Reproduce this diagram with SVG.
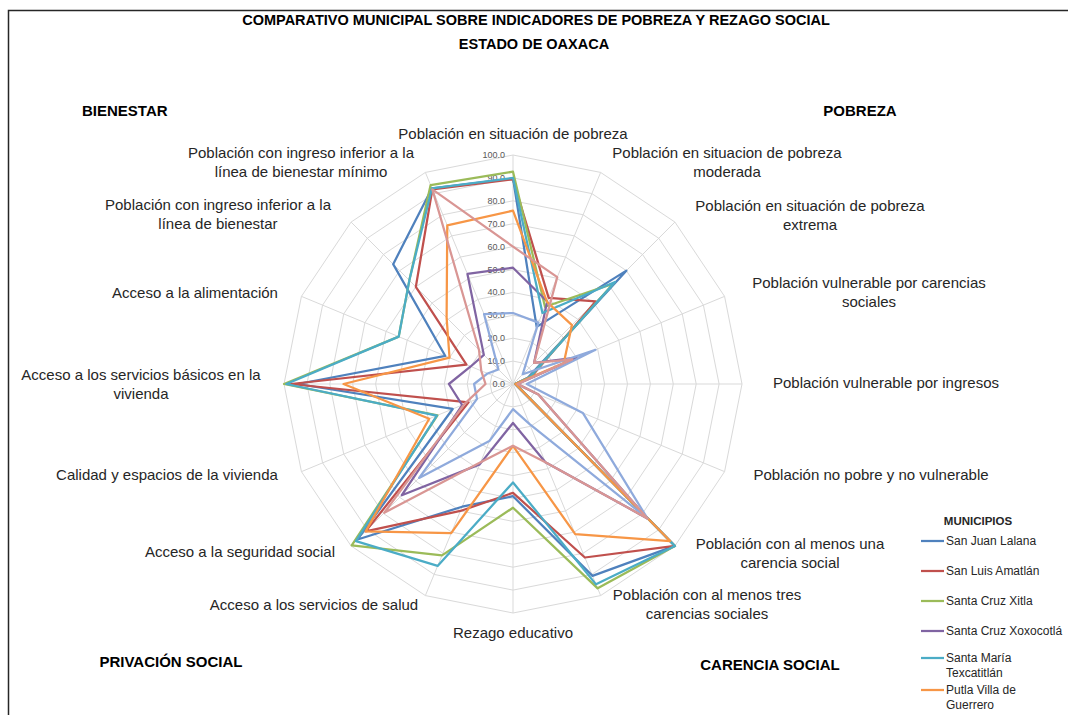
<svg xmlns="http://www.w3.org/2000/svg" xmlns:xlink="http://www.w3.org/1999/xlink" width="1068" height="715" viewBox="0 0 1068 715">
<style>
.t{font-family:"Liberation Sans",Arial,sans-serif;fill:#262626}
.ttl{font-size:14.5px;font-weight:bold;fill:#000}
.sec{font-size:15px;font-weight:bold;fill:#000}
.ax{font-size:15px;text-anchor:middle}
.tk{font-size:9px;fill:#595959;text-anchor:end}
.lg{font-size:12px}
.s{fill:none;stroke-width:2.25;stroke-linejoin:round}
.gr{fill:none;stroke:#D9D9D9;stroke-width:1}
</style>
<defs>
<polygon id="ring" vector-effect="non-scaling-stroke" points="0,-100 38.268,-92.388 70.711,-70.711 92.388,-38.268 100,0 92.388,38.268 70.711,70.711 38.268,92.388 0,100 -38.268,92.388 -70.711,70.711 -92.388,38.268 -100,0 -92.388,-38.268 -70.711,-70.711 -38.268,-92.388"/>
</defs>
<rect x="0" y="0" width="1068" height="715" fill="#fff"/>
<rect x="8.5" y="10.5" width="1100" height="760" fill="none" stroke="#262626" stroke-width="1.5"/>

<g id="title" class="t">
<text class="t ttl" x="536" y="25" text-anchor="middle">COMPARATIVO MUNICIPAL SOBRE INDICADORES DE POBREZA Y REZAGO SOCIAL</text>
<text class="t ttl" x="534" y="49" text-anchor="middle">ESTADO DE OAXACA</text>
</g>

<g id="sections">
<text class="t sec" x="82" y="116">BIENESTAR</text>
<text class="t sec" x="860" y="116" text-anchor="middle">POBREZA</text>
<text class="t sec" x="171" y="667" text-anchor="middle">PRIVACIÓN SOCIAL</text>
<text class="t sec" x="770" y="670" text-anchor="middle">CARENCIA SOCIAL</text>
</g>

<g id="grid" class="gr" transform="translate(513,384)">
<use xlink:href="#ring" href="#ring" transform="scale(0.229)"/>
<use xlink:href="#ring" href="#ring" transform="scale(0.458)"/>
<use xlink:href="#ring" href="#ring" transform="scale(0.687)"/>
<use xlink:href="#ring" href="#ring" transform="scale(0.916)"/>
<use xlink:href="#ring" href="#ring" transform="scale(1.145)"/>
<use xlink:href="#ring" href="#ring" transform="scale(1.374)"/>
<use xlink:href="#ring" href="#ring" transform="scale(1.603)"/>
<use xlink:href="#ring" href="#ring" transform="scale(1.832)"/>
<use xlink:href="#ring" href="#ring" transform="scale(2.061)"/>
<use xlink:href="#ring" href="#ring" transform="scale(2.29)"/>
<path d="M0 0L0 -229M0 0L87.63 -211.57M0 0L161.93 -161.93M0 0L211.57 -87.63M0 0L229 0M0 0L211.57 87.63M0 0L161.93 161.93M0 0L87.63 211.57M0 0L0 229M0 0L-87.63 211.57M0 0L-161.93 161.93M0 0L-211.57 87.63M0 0L-229 0M0 0L-211.57 -87.63M0 0L-161.93 -161.93M0 0L-87.63 -211.57"/>
</g>

<g id="ticks" class="t tk">
<text class="t tk" x="505" y="387">0.0</text>
<text class="t tk" x="505" y="364.1">10.0</text>
<text class="t tk" x="505" y="341.2">20.0</text>
<text class="t tk" x="505" y="318.3">30.0</text>
<text class="t tk" x="505" y="295.4">40.0</text>
<text class="t tk" x="505" y="272.5">50.0</text>
<text class="t tk" x="505" y="249.6">60.0</text>
<text class="t tk" x="505" y="226.7">70.0</text>
<text class="t tk" x="505" y="203.8">80.0</text>
<text class="t tk" x="505" y="180.9">90.0</text>
<text class="t tk" x="505" y="158">100.0</text>
</g>

<g id="axis-labels">
<text class="t ax" x="513" y="139">Población en situación de pobreza</text>
<text class="t ax" x="727" y="158"><tspan x="727">Población en situacion de pobreza</tspan><tspan x="727" dy="19">moderada</tspan></text>
<text class="t ax" x="810" y="211"><tspan x="810">Población en situación de pobreza</tspan><tspan x="810" dy="19">extrema</tspan></text>
<text class="t ax" x="869" y="288"><tspan x="869">Población vulnerable por carencias</tspan><tspan x="869" dy="19">sociales</tspan></text>
<text class="t ax" x="886" y="388">Población vulnerable por ingresos</text>
<text class="t ax" x="871" y="480">Población no pobre y no vulnerable</text>
<text class="t ax" x="790" y="549"><tspan x="790">Población con al menos una</tspan><tspan x="790" dy="19">carencia social</tspan></text>
<text class="t ax" x="707" y="600"><tspan x="707">Población con al menos tres</tspan><tspan x="707" dy="19">carencias sociales</tspan></text>
<text class="t ax" x="513" y="638">Rezago educativo</text>
<text class="t ax" x="314" y="610">Acceso a los servicios de salud</text>
<text class="t ax" x="240" y="557">Acceso a la seguridad social</text>
<text class="t ax" x="167" y="480">Calidad y espacios de la vivienda</text>
<text class="t ax" x="141" y="380"><tspan x="141">Acceso a los servicios básicos en la</tspan><tspan x="141" dy="19">vivienda</tspan></text>
<text class="t ax" x="195" y="298">Acceso a la alimentación</text>
<text class="t ax" x="218" y="210"><tspan x="218">Población con ingreso inferior a la</tspan><tspan x="218" dy="19">línea de bienestar</tspan></text>
<text class="t ax" x="301" y="158"><tspan x="301">Población con ingreso inferior a la</tspan><tspan x="301" dy="19">línea de bienestar mínimo</tspan></text>
</g>

<g id="series" transform="translate(513,384)">
<polygon id="s-san-juan-lalana" class="s" stroke="#4F81BD" points="0,-205.6 23.66,-57.12 113.35,-113.35 14.81,-6.13 2.29,0 4.23,1.75 161.93,161.93 79.48,191.89 0,112.2 -50.83,122.71 -155.45,155.45 -60.3,24.98 -215.26,0 -67.7,-28.04 -119.83,-119.83 -81.06,-195.7"/>
<polygon id="s-san-luis-amatlan" class="s" stroke="#C0504D" points="0,-204.7 35.67,-86.11 82.59,-82.59 19.04,-7.89 2.29,0 4.23,1.75 161.93,161.93 71.87,173.5 0,108.8 -52.58,126.94 -147.36,147.36 -44.43,18.4 -222.1,0 -46.54,-19.28 -97.16,-97.16 -80.63,-194.66"/>
<polygon id="s-santa-cruz-xitla" class="s" stroke="#9BBB59" points="0,-212.3 31.99,-77.23 100.41,-100.41 16.93,-7.01 2.29,0 4.23,1.75 161.93,161.93 84.65,204.36 0,123.7 -70.99,171.38 -161.29,161.29 -75.53,31.28 -229,0 -114.28,-47.34 -103.66,-103.66 -82.39,-198.91"/>
<polygon id="s-santa-cruz-xoxocotla" class="s" stroke="#8064A2" points="0,-116.3 34.18,-82.51 21.05,-21.05 63.47,-26.29 4.58,0 25.39,10.52 134.4,134.4 32.42,78.28 0,38.93 -33.3,80.4 -111.23,111.23 -50.78,21.03 -64.12,0 -42.31,-17.53 -29.15,-29.15 -45.57,-110.02"/>
<polygon id="s-santa-maria-texcatitlan" class="s" stroke="#4BACC6" points="0,-206.1 29.44,-71.08 102.01,-102.01 16.93,-7.01 2.29,0 4.23,1.75 161.93,161.93 82.99,200.35 0,98.47 -75.37,181.95 -157.07,157.07 -76.16,31.55 -226.71,0 -114.28,-47.34 -103.66,-103.66 -81.06,-195.7"/>
<polygon id="s-putla-villa-de-guerrero" class="s" stroke="#F79646" points="0,-173.35 34,-82.09 58.94,-58.94 50.78,-21.03 2.29,0 4.23,1.75 157.07,157.07 62.22,150.21 0,61.83 -61.78,149.16 -147.35,147.35 -83.78,34.7 -169.46,0 -63.47,-26.29 -66.39,-66.39 -65.73,-158.68"/>
<polygon id="s-serie-7" class="s" stroke="#8FAADC" points="0,-70.99 25.41,-61.35 9.72,-9.72 82.51,-34.18 13.74,0 69.82,28.92 134.4,134.4 16.65,40.2 0,25.19 -23.66,57.12 -93.92,93.92 -35.97,14.9 -38.93,0 -25.39,-10.52 -14.57,-14.57 -28.92,-69.82"/>
<polygon id="s-serie-8" class="s" stroke="#D99694" points="0,-137.4 44.26,-106.84 21.05,-21.05 59.24,-24.54 4.58,0 25.39,10.52 134.4,134.4 32.42,78.28 0,61.83 -32.42,78.28 -128.73,128.73 -48.66,20.16 -27.48,0 -31.73,-13.15 -34,-34 -80.63,-194.66"/>
</g>

<g id="legend">
<text class="t" x="978" y="525" text-anchor="middle" font-size="11.5" font-weight="bold" fill="#000">MUNICIPIOS</text>
<g id="lg-1"><line x1="921" y1="541" x2="944" y2="541" stroke="#4F81BD" stroke-width="2.25"/><text class="t lg" x="946" y="545">San Juan Lalana</text></g>
<g id="lg-2"><line x1="921" y1="571" x2="944" y2="571" stroke="#C0504D" stroke-width="2.25"/><text class="t lg" x="946" y="575">San Luis Amatlán</text></g>
<g id="lg-3"><line x1="921" y1="601" x2="944" y2="601" stroke="#9BBB59" stroke-width="2.25"/><text class="t lg" x="946" y="605">Santa Cruz Xitla</text></g>
<g id="lg-4"><line x1="921" y1="631" x2="944" y2="631" stroke="#8064A2" stroke-width="2.25"/><text class="t lg" x="946" y="635">Santa Cruz Xoxocotlá</text></g>
<g id="lg-5"><line x1="921" y1="658" x2="944" y2="658" stroke="#4BACC6" stroke-width="2.25"/><text class="t lg" x="946" y="662"><tspan x="946">Santa María</tspan><tspan x="946" dy="15">Texcatitlán</tspan></text></g>
<g id="lg-6"><line x1="921" y1="690" x2="944" y2="690" stroke="#F79646" stroke-width="2.25"/><text class="t lg" x="946" y="694"><tspan x="946">Putla Villa de</tspan><tspan x="946" dy="15">Guerrero</tspan></text></g>
</g>
</svg>
